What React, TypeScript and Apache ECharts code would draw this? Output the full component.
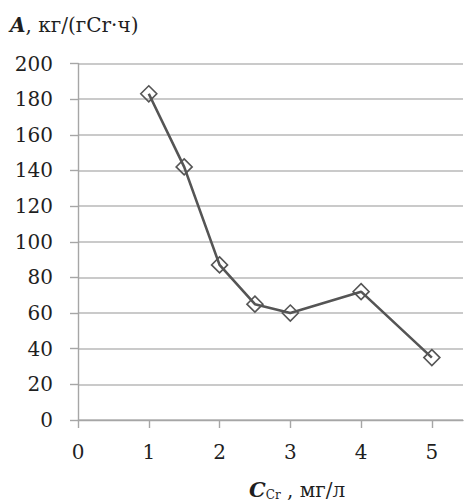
import React, { useEffect, useRef } from "react";
import * as echarts from "echarts";

const xValues = [1, 1.5, 2, 2.5, 3, 4, 5];
const yValues = [183, 142, 87, 65, 60, 72, 35];
const xTickValues = [0, 1, 2, 3, 4, 5];
const yTitle = "кг/(гCr·ч)";
const xTitleUnit = " , мг/л";

const FONT = "DejaVu Serif";

export default function App() {
  const ref = useRef<HTMLDivElement>(null);
  useEffect(() => {
    if (!ref.current) return;
    const chart = echarts.init(ref.current, undefined, { renderer: "svg" });
    const data = xValues.map((x, i) => [x, yValues[i]]);
    chart.setOption({
      animation: false,
      backgroundColor: "#ffffff",
      grid: { left: 78, right: 2, top: 63.5, bottom: 82 },
      xAxis: {
        type: "value",
        min: 0,
        max: 5.44,
        interval: 1,
        axisLine: { show: true, lineStyle: { color: "#a6a6a6", width: 1.4 } },
        axisTick: { show: true, length: 8, lineStyle: { color: "#a6a6a6", width: 1.4 } },
        splitLine: { show: false },
        axisLabel: {
          margin: 22,
          fontFamily: FONT,
          fontSize: 20,
          color: "#1f1f1f",
          showMaxLabel: false,
          formatter: (v: number) => (xTickValues.includes(v) ? String(v) : ""),
        },
      },
      yAxis: {
        type: "value",
        min: 0,
        max: 200,
        interval: 20,
        axisLine: { show: true, lineStyle: { color: "#a6a6a6", width: 1.4 } },
        axisTick: { show: true, length: 8, lineStyle: { color: "#a6a6a6", width: 1.4 } },
        splitLine: { show: true, lineStyle: { color: "#b8b8b8", width: 1.5 } },
        axisLabel: {
          margin: 25,
          fontFamily: FONT,
          fontSize: 20,
          color: "#1f1f1f",
        },
      },
      series: [
        {
          type: "line",
          data,
          symbol: "diamond",
          symbolSize: 16,
          lineStyle: { color: "#555555", width: 2.6 },
          itemStyle: { color: "rgba(255,255,255,0)", borderColor: "#555555", borderWidth: 1.6 },
          z: 3,
        },
      ],
      graphic: [
        {
          type: "text",
          left: 10,
          top: 15,
          style: {
            text: "{a|A}{b|, " + yTitle + "}",
            rich: {
              a: { fontFamily: FONT, fontSize: 20, fontWeight: "bold", fontStyle: "italic", fill: "#1f1f1f" },
              b: { fontFamily: FONT, fontSize: 20, fill: "#1f1f1f" },
            },
          },
        },
        {
          type: "text",
          left: 249,
          top: 479,
          style: {
            text: "{a|C}{s|Cr}{b|" + xTitleUnit + "}",
            rich: {
              a: { fontFamily: FONT, fontSize: 21, fontWeight: "bold", fontStyle: "italic", fill: "#1f1f1f" },
              s: { fontFamily: FONT, fontSize: 12, fill: "#1f1f1f", padding: [10, 0, 0, 0] },
              b: { fontFamily: FONT, fontSize: 20, fill: "#1f1f1f" },
            },
          },
        },
      ],
    });
    return () => chart.dispose();
  }, []);
  return (
    <div
      ref={ref}
      style={{ position: "fixed", left: 0, top: 0, width: 465, height: 502, background: "#fff" }}
    />
  );
}
